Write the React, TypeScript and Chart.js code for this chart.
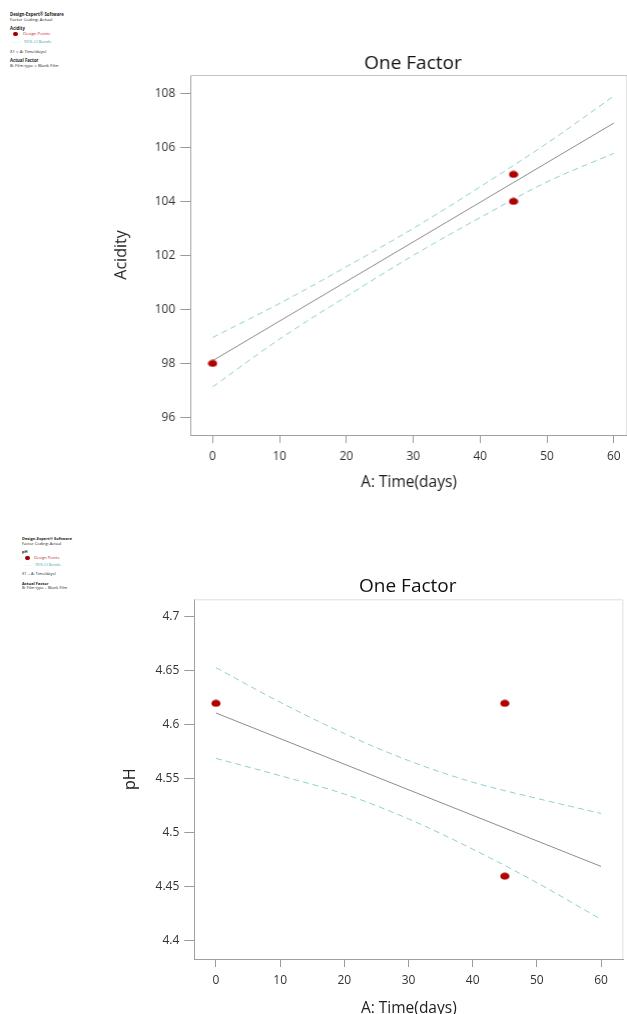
import React, { useEffect, useRef } from "react";
import { Chart, registerables } from "chart.js";

Chart.register(...registerables);

// ---------- data ----------
const xTicks = [0, 10, 20, 30, 40, 50, 60];
const pointX = [0, 45, 45];
const acidityPoints = [98, 105, 104];
const phPoints = [4.62, 4.62, 4.46];

const fitX = [0, 60];
const acidityFit = [98.1, 106.9];
const phFit = [4.611, 4.469];

const ciX = [0, 10, 20, 30, 40, 50, 60];
const acidityUpper = [98.96, 100.22, 101.58, 103.0, 104.54, 106.15, 107.9];
const acidityLower = [97.13, 98.9, 100.48, 102.0, 103.4, 104.72, 105.78];
const phUpper = [4.653, 4.621, 4.592, 4.567, 4.547, 4.532, 4.518];
const phLower = [4.569, 4.553, 4.536, 4.513, 4.485, 4.454, 4.42];

const acidityTicks = [96, 98, 100, 102, 104, 106, 108];
const phTicks = [4.4, 4.45, 4.5, 4.55, 4.6, 4.65, 4.7];

const FONT = "'Open Sans', 'Noto Sans', sans-serif";

type PanelProps = {
  top: number;
  width: number;
  height: number;
  yPoints: number[];
  fit: number[];
  upper: number[];
  lower: number[];
  yTicks: number[];
  yTitle: string;
  xMin: number;
  xMax: number;
  yMin: number;
  yMax: number;
  yWidth: number;
  xHeight: number;
  padTop: number;
  yTitlePad: number;
  xTitlePad: number;
  titleY: number;
  titleDx: number;
  frameColor: string;
};

const frameTitlePlugin = {
  id: "frameTitle",
  beforeDatasetsDraw(chart: any, _args: any, opts: any) {
    const { ctx, chartArea: a } = chart;
    ctx.save();
    ctx.strokeStyle = opts.frameColor;
    ctx.lineWidth = 1;
    ctx.beginPath();
    ctx.moveTo(a.left, a.top + 0.5);
    ctx.lineTo(a.right - 0.5, a.top + 0.5);
    ctx.lineTo(a.right - 0.5, a.bottom);
    ctx.stroke();
    ctx.restore();
  },
  afterDraw(chart: any, _args: any, opts: any) {
    const { ctx, chartArea: a } = chart;
    ctx.save();
    ctx.fillStyle = "#111";
    ctx.font = `19px ${FONT}`;
    ctx.textAlign = "center";
    ctx.textBaseline = "middle";
    ctx.fillText(opts.text, (a.left + a.right) / 2 + opts.dx, opts.y);
    ctx.restore();
  },
};

function makeEllipse(): HTMLCanvasElement {
  const c = document.createElement("canvas");
  c.width = 10;
  c.height = 8;
  const g = c.getContext("2d")!;
  g.fillStyle = "#b00000";
  g.beginPath();
  g.ellipse(5, 4, 4.6, 3.6, 0, 0, Math.PI * 2);
  g.fill();
  return c;
}

function Panel(p: PanelProps) {
  const ref = useRef<HTMLCanvasElement | null>(null);
  useEffect(() => {
    if (!ref.current) return;
    const dot = makeEllipse();
    const tickFont = { family: FONT, size: 12 };
    const chart = new Chart(ref.current, {
      type: "scatter",
      data: {
        datasets: [
          {
            label: "Design Points",
            data: pointX.map((x, i) => ({ x, y: p.yPoints[i] })),
            pointStyle: dot as any,
            pointRadius: 4,
            showLine: false,
          },
          {
            label: "Fit",
            data: fitX.map((x, i) => ({ x, y: p.fit[i] })),
            showLine: true,
            borderColor: "#8c8c8c",
            borderWidth: 1,
            pointRadius: 0,
          },
          {
            label: "95% CI Upper",
            data: ciX.map((x, i) => ({ x, y: p.upper[i] })),
            showLine: true,
            borderColor: "#8fd0cf",
            borderWidth: 1,
            borderDash: [6, 4],
            pointRadius: 0,
            cubicInterpolationMode: "monotone",
          },
          {
            label: "95% CI Lower",
            data: ciX.map((x, i) => ({ x, y: p.lower[i] })),
            showLine: true,
            borderColor: "#8fd0cf",
            borderWidth: 1,
            borderDash: [6, 4],
            pointRadius: 0,
            cubicInterpolationMode: "monotone",
          },
        ],
      },
      options: {
        animation: false,
        responsive: true,
        maintainAspectRatio: false,
        layout: { padding: { top: p.padTop, right: 0, left: 0, bottom: 0 } },
        plugins: {
          legend: { display: false },
          tooltip: { enabled: false },
          title: { display: false },
          frameTitle: { text: "One Factor", y: p.titleY, dx: p.titleDx, frameColor: p.frameColor },
        } as any,
        scales: {
          x: {
            type: "linear",
            min: p.xMin,
            max: p.xMax,
            afterBuildTicks: (s: any) => {
              s.ticks = xTicks.map((v) => ({ value: v }));
            },
            afterFit: (s: any) => {
              s.height = p.xHeight;
              s.paddingLeft = 0;
              s.paddingRight = 0;
            },
            grid: { drawOnChartArea: false, drawTicks: true, tickLength: 8, color: "#9a9a9a" },
            border: { display: true, color: "#a0a0a0" },
            ticks: { padding: 6, font: tickFont, color: "#333", maxRotation: 0, autoSkip: false },
            title: {
              display: true,
              text: "A: Time(days)",
              color: "#222",
              font: { family: FONT, size: 15.5 },
              padding: { top: 0, bottom: p.xTitlePad },
            },
          },
          y: {
            type: "linear",
            min: p.yMin,
            max: p.yMax,
            afterBuildTicks: (s: any) => {
              s.ticks = p.yTicks.map((v) => ({ value: v }));
            },
            afterFit: (s: any) => {
              s.width = p.yWidth;
              s.paddingTop = 0;
              s.paddingBottom = 0;
            },
            grid: { drawOnChartArea: false, drawTicks: true, tickLength: 10, color: "#9a9a9a" },
            border: { display: true, color: "#a0a0a0" },
            ticks: {
              padding: 5,
              font: tickFont,
              color: "#333",
              autoSkip: false,
              callback: (v: any) => String(+Number(v).toFixed(2)),
            },
            title: {
              display: true,
              text: p.yTitle,
              color: "#222",
              font: { family: FONT, size: 16 },
              padding: { top: p.yTitlePad, bottom: 0 },
            },
          },
        },
      },
      plugins: [frameTitlePlugin as any],
    });
    return () => chart.destroy();
  }, []);
  return (
    <div style={{ position: "absolute", left: 0, top: p.top, width: p.width, height: p.height }}>
      <canvas ref={ref} />
    </div>
  );
}

type LegendLine = { y: number; text: string; bold?: boolean; kind?: "dot" | "dash" };

function Legend({ x, size, lines }: { x: number; size: number; lines: LegendLine[] }) {
  return (
    <>
      {lines.map((l, i) => {
        const color = l.kind === "dot" ? "#c0282a" : l.kind === "dash" ? "#3aa9a8" : "#222";
        return (
          <div
            key={i}
            style={{
              position: "absolute",
              left: x,
              top: l.y - size * 0.6,
              height: size * 1.2,
              lineHeight: `${size * 1.2}px`,
              fontSize: size,
              fontFamily: FONT,
              fontWeight: l.bold ? 700 : 400,
              color,
              whiteSpace: "nowrap",
            }}
          >
            {l.kind === "dot" && (
              <span
                style={{
                  display: "inline-block",
                  width: size * 1.1,
                  height: size * 1.1,
                  borderRadius: "50%",
                  background: "#a00000",
                  marginLeft: size * 0.8,
                  marginRight: size * 1.1,
                  verticalAlign: "middle",
                }}
              />
            )}
            {l.kind === "dash" && (
              <span style={{ marginLeft: size * 0.4, marginRight: size * 0.9, letterSpacing: size * 0.1 }}>- - -</span>
            )}
            {l.text}
          </div>
        );
      })}
    </>
  );
}

export default function App() {
  return (
    <div style={{ position: "fixed", left: 0, top: 0, width: 627, height: 1014, overflow: "hidden", background: "#fff" }}>
      <Legend
        x={10}
        size={4.3}
        lines={[
          { y: 15, text: "Design-Expert® Software", bold: true },
          { y: 19.5, text: "Factor Coding: Actual" },
          { y: 28.7, text: "Acidity", bold: true },
          { y: 33.7, text: "Design Points", kind: "dot" },
          { y: 41.7, text: "95% CI Bands", kind: "dash" },
          { y: 52, text: "X1 = A: Time(days)" },
          { y: 60.7, text: "Actual Factor", bold: true },
          { y: 65.3, text: "B: Film type = Blank Film" },
        ]}
      />
      <Legend
        x={22}
        size={4}
        lines={[
          { y: 539, text: "Design-Expert® Software", bold: true },
          { y: 544, text: "Factor Coding: Actual" },
          { y: 552.7, text: "pH", bold: true },
          { y: 558, text: "Design Points", kind: "dot" },
          { y: 565.7, text: "95% CI Bands", kind: "dash" },
          { y: 574.7, text: "X1 = A: Time(days)" },
          { y: 584.3, text: "Actual Factor", bold: true },
          { y: 588.7, text: "B: Film type = Blank Film" },
        ]}
      />
      <Panel
        top={0}
        width={631.5}
        height={507}
        yPoints={acidityPoints}
        fit={acidityFit}
        upper={acidityUpper}
        lower={acidityLower}
        yTicks={acidityTicks}
        yTitle="Acidity"
        xMin={-3.34}
        xMax={62.05}
        yMin={95.35}
        yMax={108.68}
        yWidth={190}
        xHeight={72}
        padTop={75}
        yTitlePad={112}
        xTitlePad={14.7}
        titleY={63.3}
        titleDx={4}
        frameColor="#c4c4c4"
      />
      <Panel
        top={507}
        width={628.3}
        height={530}
        yPoints={phPoints}
        fit={phFit}
        upper={phUpper}
        lower={phLower}
        yTicks={phTicks}
        yTitle="pH"
        xMin={-3.38}
        xMax={63.47}
        yMin={4.3833}
        yMax={4.7163}
        yWidth={194.3}
        xHeight={78}
        padTop={92.3}
        yTitlePad={120.4}
        xTitlePad={18.7}
        titleY={79.7}
        titleDx={-1}
        frameColor="#dedede"
      />
    </div>
  );
}
